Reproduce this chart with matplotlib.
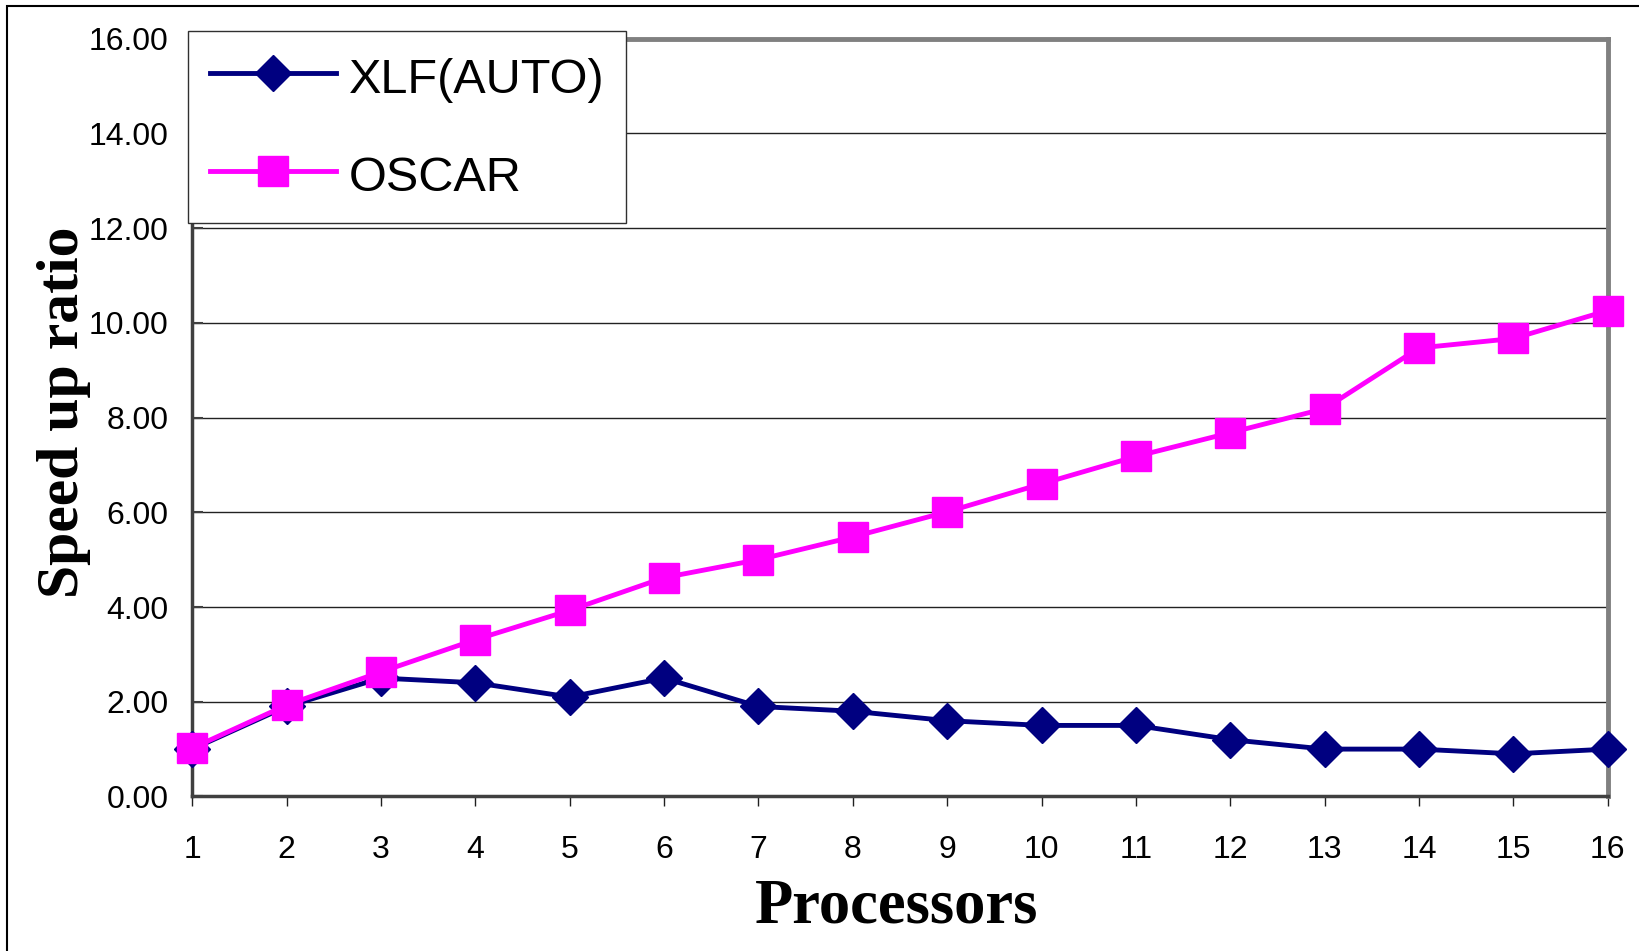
import matplotlib.pyplot as plt
from matplotlib.patches import Rectangle

# data
processors = list(range(1, 17))
xlf_auto = [1.0, 1.9, 2.5, 2.4, 2.1, 2.5, 1.9, 1.8, 1.6, 1.5, 1.5, 1.2, 1.0, 1.0, 0.9, 1.0]
oscar = [1.02, 1.93, 2.63, 3.31, 3.93, 4.62, 5.0, 5.48, 6.01, 6.6, 7.18, 7.68, 8.19, 9.47, 9.67, 10.26]
y_ticks = [0, 2, 4, 6, 8, 10, 12, 14, 16]

tick_font = ['Liberation Sans', 'DejaVu Sans']
label_font = ['Liberation Serif', 'DejaVu Serif']

fig = plt.figure(figsize=(16.39, 9.51), dpi=100)
ax = fig.add_axes([0.1173, 0.1625, 0.8637, 0.7968])

# outer chart border (right and bottom edges fall outside the picture)
fig.patches.append(Rectangle((7 / 1639, -0.1), 1.2, 1.1 - 6 / 951, transform=fig.transFigure,
                             fill=False, edgecolor='black', linewidth=1.5, zorder=0))

ax.plot(processors, xlf_auto, color='#000080', linewidth=3.5, marker='D', markersize=18,
        label='XLF(AUTO)', clip_on=False, zorder=3)
ax.plot(processors, oscar, color='#FF00FF', linewidth=3.5, marker='s', markersize=21,
        label='OSCAR', clip_on=False, zorder=4)

ax.set_xlim(1, 16)
ax.set_ylim(0, 16)
ax.set_xticks(processors)
ax.set_yticks(y_ticks)
ax.set_yticklabels(['%.2f' % v for v in y_ticks])

ax.yaxis.grid(True, color='#222222', linewidth=1.0)
ax.set_axisbelow(True)

for side in ['top', 'right']:
    ax.spines[side].set_color('#808080')
    ax.spines[side].set_linewidth(3.5)
for side in ['left', 'bottom']:
    ax.spines[side].set_color('#404040')
    ax.spines[side].set_linewidth(2.5)

ax.tick_params(axis='x', direction='out', length=7, width=1, color='#202020', pad=21)
ax.tick_params(axis='y', direction='in', length=8, width=1.5, color='#404040', pad=17)
for lbl in ax.get_xticklabels() + ax.get_yticklabels():
    lbl.set_family(tick_font)
    lbl.set_fontsize(23)

fig.text(0.547, 0.046, 'Processors', family=label_font, fontweight='bold',
         fontsize=45, ha='center', va='center')
fig.text(0.039, 0.566, 'Speed up ratio', family=label_font, fontweight='bold',
         fontsize=43, ha='center', va='center', rotation=90)

leg = fig.legend(loc='upper left', bbox_to_anchor=(188 / 1639, 1 - 31 / 951),
                 bbox_transform=fig.transFigure, borderaxespad=0, fancybox=False,
                 framealpha=1, edgecolor='#303030', prop={'family': tick_font, 'size': 35},
                 handlelength=2.6, handleheight=1.1, handletextpad=0.25,
                 labelspacing=1.0, borderpad=0.45)
leg.get_frame().set_linewidth(1.0)

fig.savefig('out.png', dpi=100)
